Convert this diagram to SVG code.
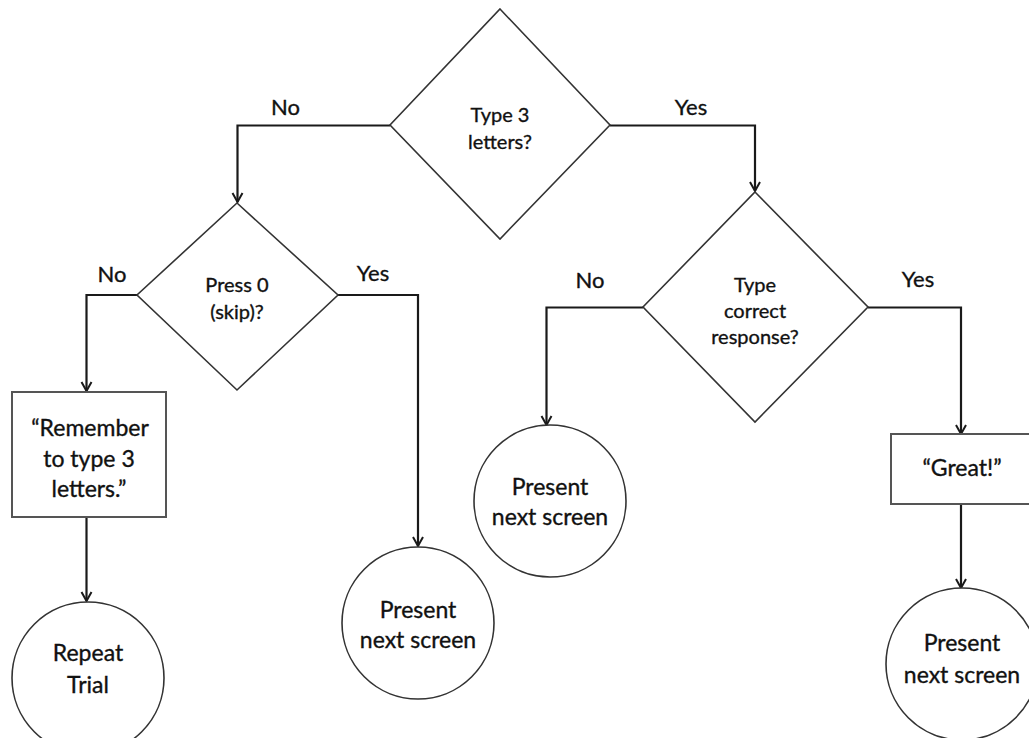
<svg xmlns="http://www.w3.org/2000/svg" width="1029" height="738" viewBox="0 0 1029 738">
<defs>
<marker id="arr" markerUnits="userSpaceOnUse" markerWidth="14" markerHeight="14" viewBox="-12 -7 14 14" refX="0" refY="0" orient="auto">
<path d="M-9,-5 L0,0 L-9,5" fill="none" stroke="#1a1a1a" stroke-width="2"/>
</marker>
<style>
.shape{fill:#fff;stroke:#333;stroke-width:1.6}
.box{fill:#fff;stroke:#555;stroke-width:2}
.conn{fill:none;stroke:#1a1a1a;stroke-width:2.2;marker-end:url(#arr)}
text{font-family:Lato,"Open Sans","Liberation Sans",sans-serif;fill:#111;stroke:#111;stroke-width:0.35;text-anchor:middle}
.q{font-size:20px}
.big{font-size:23px}
.lbl{font-size:22px}
</style>
</defs>
<rect width="1029" height="738" fill="#fff"/>
<g id="connectors">
<path class="conn" d="M390,125.5 H237.5 V202"/>
<path class="conn" d="M610,125.5 H755 V191"/>
<path class="conn" d="M137,295 H86.5 V391"/>
<path class="conn" d="M338,295 H418 V546"/>
<path class="conn" d="M643,307.5 H546.5 V425"/>
<path class="conn" d="M868,307.5 H961 V434"/>
<path class="conn" d="M86.5,517 V601"/>
<path class="conn" d="M961,504 V588"/>
</g>
<g id="labels">
<text class="lbl" x="285.5" y="115">No</text>
<text class="lbl" x="691" y="115">Yes</text>
<text class="lbl" x="112" y="282">No</text>
<text class="lbl" x="373" y="281">Yes</text>
<text class="lbl" x="590" y="288">No</text>
<text class="lbl" x="918" y="287">Yes</text>
</g>
<g id="q-type3">
<polygon class="shape" points="500,9 610,125 500,239 390,125"/>
<text class="q" x="500" y="122">Type 3</text>
<text class="q" x="500" y="149">letters?</text>
</g>
<g id="q-press0">
<polygon class="shape" points="237,203 338,295 237,390 137,295"/>
<text class="q" x="237" y="292">Press 0</text>
<text class="q" x="237" y="319">(skip)?</text>
</g>
<g id="q-correct">
<polygon class="shape" points="755,192 868,307 755,422 643,307"/>
<text class="q" x="755" y="292">Type</text>
<text class="q" x="755" y="318">correct</text>
<text class="q" x="755" y="344">response?</text>
</g>
<g id="remember">
<rect class="box" x="12" y="392" width="154" height="125"/>
<text class="big" x="90" y="436">“Remember</text>
<text class="big" x="89" y="467">to type 3</text>
<text class="big" x="89" y="497">letters.”</text>
</g>
<g id="repeat">
<circle class="shape" cx="88" cy="678" r="76"/>
<text class="big" x="88" y="661">Repeat</text>
<text class="big" x="88" y="693">Trial</text>
</g>
<g id="present-skip">
<circle class="shape" cx="418" cy="623" r="76"/>
<text class="big" x="418" y="618">Present</text>
<text class="big" x="418" y="648">next screen</text>
</g>
<g id="present-wrong">
<circle class="shape" cx="550" cy="501" r="76"/>
<text class="big" x="550" y="495">Present</text>
<text class="big" x="550" y="525">next screen</text>
</g>
<g id="great">
<rect class="box" x="891" y="434" width="140" height="70"/>
<text class="big" x="962" y="476">“Great!”</text>
</g>
<g id="present-right">
<circle class="shape" cx="962" cy="664" r="76"/>
<text class="big" x="962" y="651">Present</text>
<text class="big" x="962" y="683">next screen</text>
</g>
</svg>
